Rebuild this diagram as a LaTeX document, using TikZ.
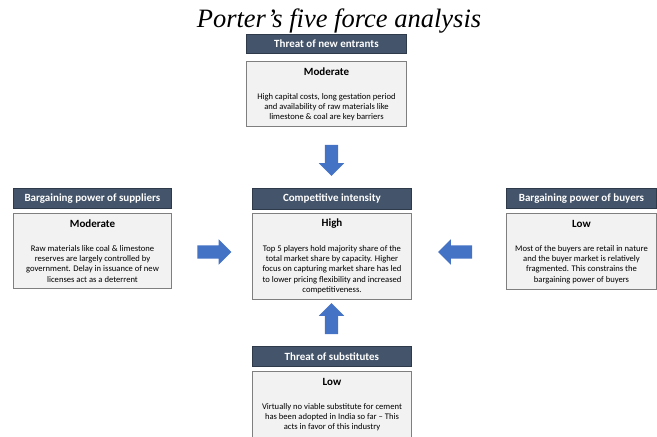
\documentclass[tikz,border=0pt]{standalone}
\usepackage{fontspec}
\setmainfont{Liberation Serif}
\newfontfamily\calib{Carlito}
\usetikzlibrary{shapes.arrows}
\definecolor{hdrfill}{HTML}{44546A}
\definecolor{hdrline}{HTML}{2E3A4A}
\definecolor{boxfill}{HTML}{F2F2F2}
\definecolor{boxline}{HTML}{7F7F7F}
\definecolor{arrowblue}{HTML}{4472C4}
\begin{document}
\begin{tikzpicture}[x=1pt,y=-1pt,
  hdr/.style={draw=hdrline,fill=hdrfill,line width=0.8pt,inner sep=0pt,anchor=north west,
    text=white,font=\calib\bfseries\fontsize{11}{13}\selectfont},
  panel/.style={draw=boxline,fill=boxfill,line width=1pt,inner sep=0pt,anchor=north west},
  rating/.style={inner sep=0pt,font=\calib\bfseries\fontsize{11}{13}\selectfont},
  body/.style={inner sep=0pt,anchor=north,align=center,font=\calib\fontsize{8.6}{10.4}\selectfont},
  blockarrow/.style={single arrow,fill=arrowblue,draw=none,inner xsep=0pt,inner ysep=6.5pt,
    single arrow head extend=6pt,single arrow head indent=0pt}]
\useasboundingbox (0,0) rectangle (657,437);

% title
\node[anchor=base,font=\itshape\fontsize{26.5}{30}\selectfont,inner sep=0pt] (title) at (339,27) {Porter’s five force analysis};

% threat of new entrants
\node[hdr,minimum width=160pt,minimum height=19pt] (hT) at (246,34) {Threat of new entrants};
\node[panel,minimum width=160pt,minimum height=65pt] (bT) at (246,61) {};
\node[rating] (rT) at ([yshift=-11pt]bT.north) {Moderate};
\node[body] (tT) at ([yshift=-32pt]bT.north) {High capital costs, long gestation period\\and availability of raw materials like\\limestone \& coal are key barriers};

% bargaining power of suppliers
\node[hdr,minimum width=158pt,minimum height=20pt] (hL) at (13,188) {Bargaining power of suppliers};
\node[panel,minimum width=158pt,minimum height=75pt] (bL) at (13,213) {};
\node[rating] (rL) at ([yshift=-11pt]bL.north) {Moderate};
\node[body] (tL) at ([yshift=-32pt]bL.north) {Raw materials like coal \& limestone\\reserves are largely controlled by\\government. Delay in issuance of new\\licenses act as a deterrent};

% competitive intensity
\node[hdr,minimum width=159pt,minimum height=21pt] (hC) at (252,188) {Competitive intensity};
\node[panel,minimum width=159pt,minimum height=86pt] (bC) at (252,213) {};
\node[rating] (rC) at ([yshift=-11pt]bC.north) {High};
\node[body] (tC) at ([yshift=-32pt]bC.north) {Top 5 players hold majority share of the\\total market share by capacity. Higher\\focus on capturing market share has led\\to lower pricing flexibility and increased\\competitiveness.};

% bargaining power of buyers
\node[hdr,minimum width=150pt,minimum height=20pt] (hR) at (506,188) {Bargaining power of buyers};
\node[panel,minimum width=150pt,minimum height=76pt] (bR) at (506,213) {};
\node[rating] (rR) at ([yshift=-11pt]bR.north) {Low};
\node[body] (tR) at ([yshift=-32pt]bR.north) {Most of the buyers are retail in nature\\and the buyer market is relatively\\fragmented. This constrains the\\bargaining power of buyers};

% threat of substitutes
\node[hdr,minimum width=159pt,minimum height=20pt] (hB) at (252,346) {Threat of substitutes};
\node[panel,minimum width=159pt,minimum height=70pt] (bB) at (252,371) {};
\node[rating] (rB) at ([yshift=-11pt]bB.north) {Low};
\node[body] (tB) at ([yshift=-32pt]bB.north) {Virtually no viable substitute for cement\\has been adopted in India so far – This\\acts in favor of this industry};

% block arrows pointing at the centre
\node[blockarrow,minimum height=31pt,rotate=-90] (aT) at (331.5,157) {};
\node[blockarrow,minimum height=34pt] (aL) at (211,252) {};
\node[blockarrow,minimum height=34pt,rotate=180] (aR) at (458.5,252) {};
\node[blockarrow,minimum height=31pt,rotate=90] (aB) at (331.5,322) {};
\end{tikzpicture}
\end{document}
